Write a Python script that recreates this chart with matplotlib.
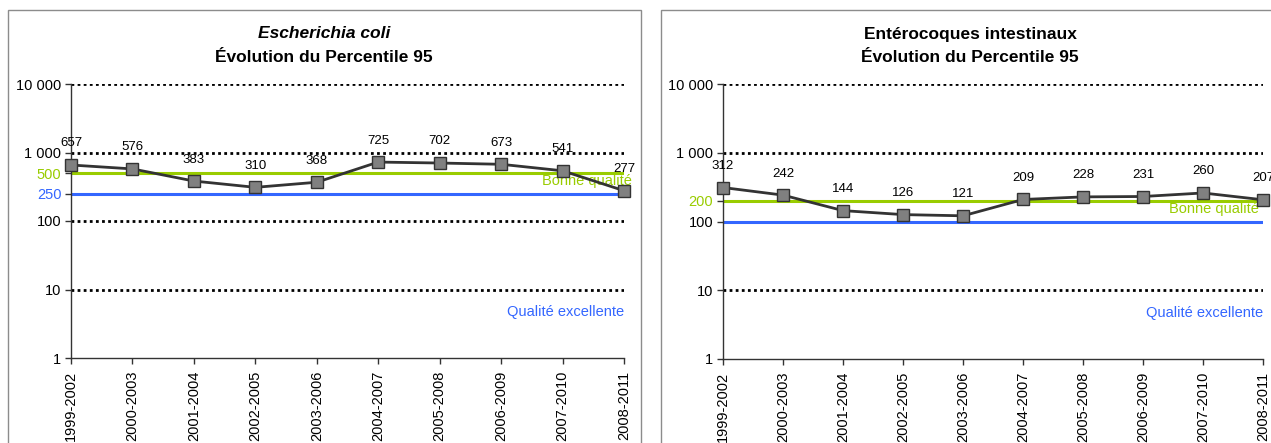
import matplotlib
matplotlib.use('Agg')
import matplotlib.pyplot as plt
import matplotlib.transforms as mtransforms
from matplotlib.patches import Rectangle

plt.rcParams['font.family'] = ['Liberation Sans', 'DejaVu Sans']

# data
periods = ['1999-2002', '2000-2003', '2001-2004', '2002-2005', '2003-2006',
           '2004-2007', '2005-2008', '2006-2009', '2007-2010', '2008-2011']
ecoli_p95 = [657, 576, 383, 310, 368, 725, 702, 673, 541, 277]
entero_p95 = [312, 242, 144, 126, 121, 209, 228, 231, 260, 207]

# seuils (bonne qualite / qualite excellente)
ecoli_good, ecoli_excellent = 500, 250
entero_good, entero_excellent = 200, 100

GREEN = '#99cc00'
BLUE = '#3366ff'
LINE = '#333333'
MARKER = '#808080'

fig = plt.figure(figsize=(12.71, 4.43), dpi=100)

# panel frames (cut by the figure edges, as in the original screenshot)
W, H = 1271.0, 443.0
for x0, x1 in [(8, 641), (661, 1285)]:
    fig.patches.append(Rectangle((x0 / W, -0.2), (x1 - x0) / W, 1.2 - 10 / H,
                                 transform=fig.transFigure, fill=False,
                                 edgecolor='#8c8c8c', linewidth=1.0))


def draw_panel(ax, values, good, excellent, excellent_label_tick, good_dx):
    x = list(range(len(periods)))
    ax.set_yscale('log')
    ax.set_ylim(1, 10000)
    ax.set_xlim(0, len(periods) - 1)

    # dotted grid on decades
    for v in [10, 100, 1000, 10000]:
        ax.axhline(v, color='black', linestyle=(0, (1, 1.2)), linewidth=2.0, zorder=1)

    # threshold lines
    ax.axhline(good, color=GREEN, linewidth=2.2, zorder=2)
    ax.axhline(excellent, color=BLUE, linewidth=2.2, zorder=2)

    ax.plot(x, values, color=LINE, linewidth=2.0, marker='s', markersize=8,
            markerfacecolor=MARKER, markeredgecolor=LINE, markeredgewidth=1.0,
            zorder=4, clip_on=False)
    for xi, v in zip(x, values):
        ax.annotate(str(v), (xi, v), xytext=(0, 15.5), textcoords='offset points',
                    ha='center', va='center', fontsize=9.5, zorder=5,
                    annotation_clip=False)

    ax.annotate('Bonne qualité', (1.0, good), xycoords=ax.get_yaxis_transform(),
                xytext=(good_dx, -6), textcoords='offset points',
                ha='right', va='center', color=GREEN, fontsize=10.5,
                annotation_clip=False)
    ax.text(1.0, 4.7, 'Qualité excellente', transform=ax.get_yaxis_transform(),
            ha='right', va='center', color=BLUE, fontsize=10.5)

    # y ticks: decades in black, thresholds in their own colours
    ticks = [1, 10, 100, 1000, 10000]
    labels = ['1', '10', '100', '1 000', '10 000']
    colors = ['black'] * 5
    ticks.append(good)
    labels.append(str(good))
    colors.append(GREEN)
    if excellent_label_tick:
        ticks.append(excellent)
        labels.append(str(excellent))
        colors.append(BLUE)
    ax.set_yticks(ticks)
    ax.set_yticklabels(labels)
    ax.yaxis.set_minor_locator(matplotlib.ticker.NullLocator())
    lift = mtransforms.ScaledTranslation(0, 6 / 72, fig.dpi_scale_trans)
    for lbl, c in zip(ax.get_yticklabels(), colors):
        lbl.set_color(c)
        if c == GREEN:
            # the green label sits a little above its line in the original
            lbl.set_transform(lbl.get_transform() + lift)
    ax.tick_params(axis='y', length=4, width=1, labelsize=10.5, pad=3, color=LINE)

    ax.set_xticks(x)
    ax.set_xticklabels(periods, rotation=90, va='top', ha='center')
    ax.tick_params(axis='x', length=4, width=1, labelsize=10.5, pad=5, color=LINE)

    for s in ['top', 'right']:
        ax.spines[s].set_visible(False)
    for s in ['left', 'bottom']:
        ax.spines[s].set_color(LINE)
        ax.spines[s].set_linewidth(1.0)


ax1 = fig.add_axes([71 / W, 1 - 358 / H, (624 - 71) / W, (358 - 84) / H])
draw_panel(ax1, ecoli_p95, ecoli_good, ecoli_excellent, True, 6)
ax2 = fig.add_axes([723 / W, 1 - 359 / H, (1263 - 723) / W, (359 - 84) / H])
draw_panel(ax2, entero_p95, entero_good, entero_excellent, False, -3)

# titles
fig.text(324 / W, 1 - 34 / H, 'Escherichia coli', ha='center', va='center',
         fontsize=12.5, fontweight='bold', fontstyle='italic')
fig.text(324 / W, 1 - 57 / H, 'Évolution du Percentile 95', ha='center', va='center',
         fontsize=12.5, fontweight='bold')
fig.text(970 / W, 1 - 34 / H, 'Entérocoques intestinaux', ha='center', va='center',
         fontsize=12.5, fontweight='bold')
fig.text(970 / W, 1 - 57 / H, 'Évolution du Percentile 95', ha='center', va='center',
         fontsize=12.5, fontweight='bold')

fig.savefig('out.png', dpi=100)
